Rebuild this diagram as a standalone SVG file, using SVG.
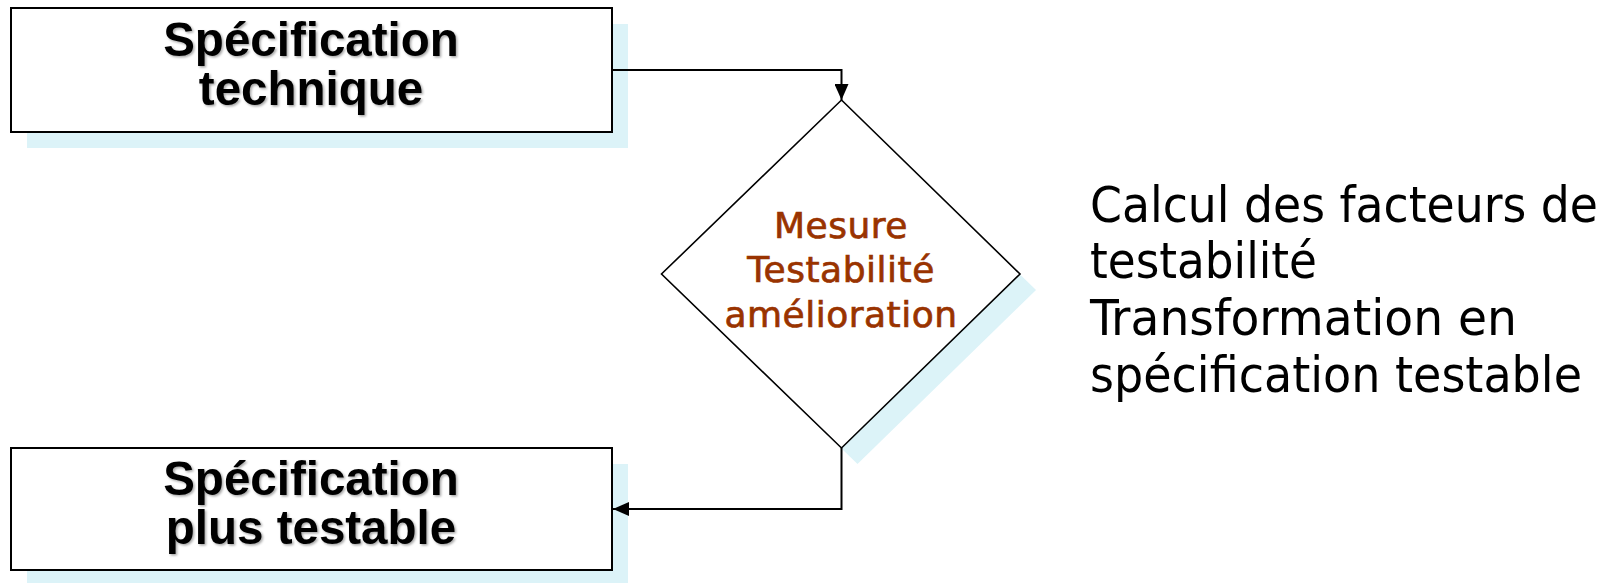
<svg xmlns="http://www.w3.org/2000/svg" width="1611" height="583" viewBox="0 0 1611 583">
<style>
.shadow{fill:#DCF3F8;stroke:none}
.box{fill:#fff;stroke:#000;stroke-width:2}
.dia{fill:#fff;stroke:#000;stroke-width:1.6}
.title{font-family:"Liberation Sans",Arial,sans-serif;font-weight:bold;font-size:47.5px;fill:#000;text-anchor:middle}
.dtext{font-family:"DejaVu Sans",Verdana,sans-serif;font-size:36px;fill:#993300;stroke:#993300;stroke-width:0.7;text-anchor:middle;letter-spacing:0.5px}
.note{font-family:"DejaVu Sans Condensed","DejaVu Sans",sans-serif;font-stretch:condensed;font-size:50px;fill:#000}
.conn{fill:none;stroke:#000;stroke-width:2}
</style>
<defs>
<filter id="ts" x="-10%" y="-20%" width="120%" height="140%">
<feDropShadow dx="1.5" dy="1.5" stdDeviation="1.2" flood-color="#000" flood-opacity="0.35"/>
</filter>
<marker id="arr" markerUnits="userSpaceOnUse" markerWidth="16" markerHeight="14" refX="16" refY="7" orient="auto">
<path d="M0,0 L16,7 L0,14 z" fill="#000"/>
</marker>
</defs>
<g id="node-spec-technique">
<rect class="shadow" x="27" y="24" width="601" height="124"/>
<rect class="box" x="11" y="8" width="601" height="124"/>
<g filter="url(#ts)">
<text class="title" x="311" y="56">Spécification</text>
<text class="title" x="311" y="105">technique</text>
</g>
</g>
<g id="node-mesure">
<polygon class="shadow" points="857.5,116 1036,290 857.5,464 677.5,290"/>
<polygon class="dia" points="841.5,100 1020,274 841.5,448 661.5,274"/>
<text class="dtext" x="841" y="237.5">Mesure</text>
<text class="dtext" x="841" y="282">Testabilité</text>
<text class="dtext" x="841" y="327">amélioration</text>
</g>
<g id="node-spec-testable">
<rect class="shadow" x="27" y="464" width="601" height="122"/>
<rect class="box" x="11" y="448" width="601" height="122"/>
<g filter="url(#ts)">
<text class="title" x="311" y="495">Spécification</text>
<text class="title" x="311" y="544">plus testable</text>
</g>
</g>
<g id="note">
<text class="note" x="1090" y="222" textLength="508" lengthAdjust="spacingAndGlyphs">Calcul des facteurs de</text>
<text class="note" x="1090" y="278" textLength="227" lengthAdjust="spacingAndGlyphs">testabilité</text>
<text class="note" x="1090" y="335" textLength="427" lengthAdjust="spacingAndGlyphs">Transformation en</text>
<text class="note" x="1090" y="392" textLength="492" lengthAdjust="spacingAndGlyphs">spécification testable</text>
</g>
<g id="connectors">
<path class="conn" d="M612,70 H841.5 V100" marker-end="url(#arr)"/>
<path class="conn" d="M841.5,448 V509 H613" marker-end="url(#arr)"/>
</g>
</svg>
